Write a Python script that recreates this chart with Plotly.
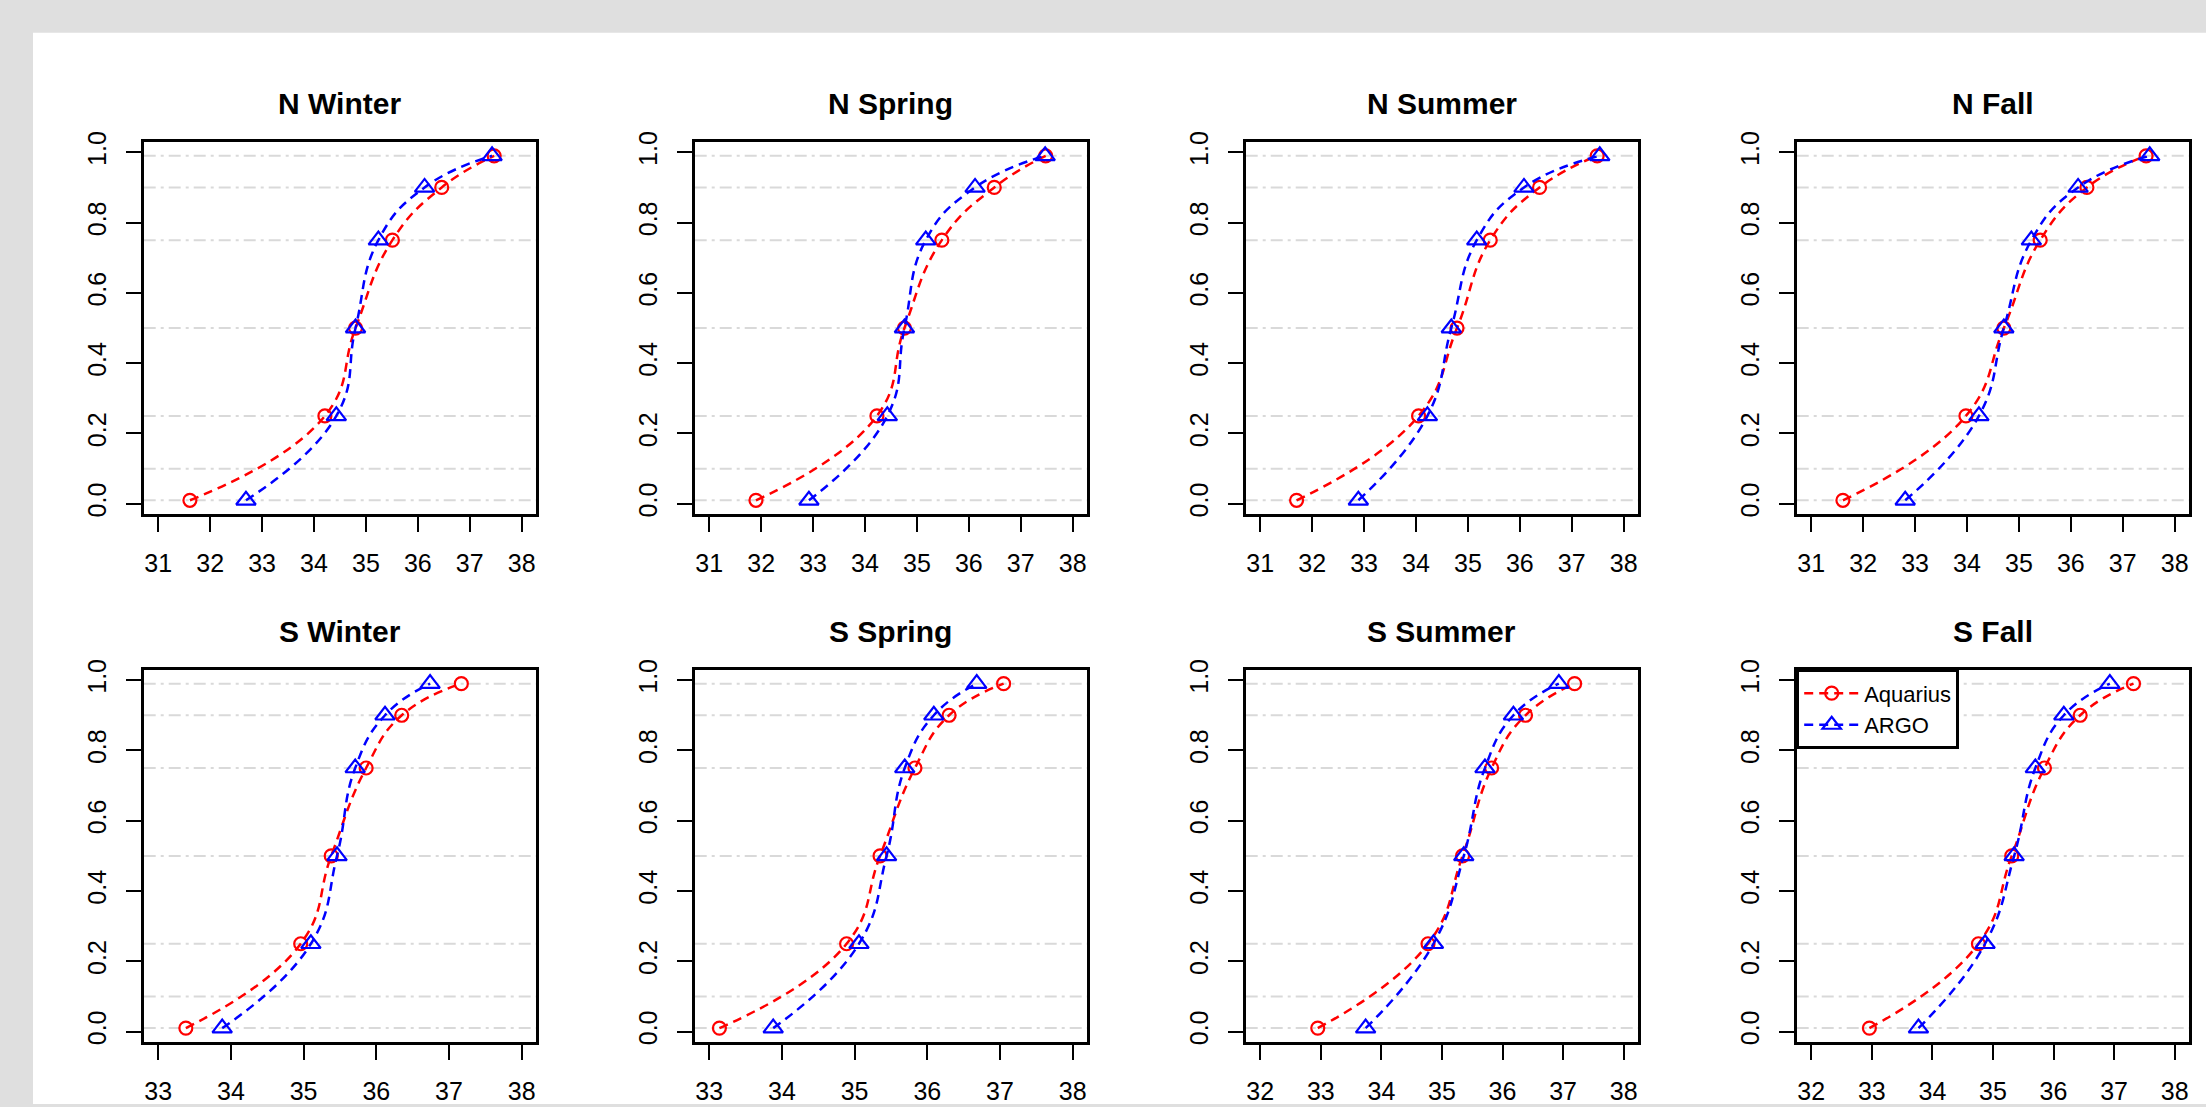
import math
import plotly.graph_objects as go

# ---------------- data ----------------
probs = [0.01, 0.25, 0.5, 0.75, 0.9, 0.99]
panels = ["N Winter", "N Spring", "N Summer", "N Fall",
          "S Winter", "S Spring", "S Summer", "S Fall"]

aquarius_n_winter = [31.61, 34.21, 34.80, 35.51, 36.46, 37.47]
aquarius_n_spring = [31.90, 34.23, 34.76, 35.48, 36.49, 37.48]
aquarius_n_summer = [31.70, 34.05, 34.79, 35.43, 36.38, 37.49]
aquarius_n_fall = [31.61, 33.98, 34.71, 35.41, 36.31, 37.45]
aquarius_s_winter = [33.38, 34.96, 35.38, 35.86, 36.35, 37.17]
aquarius_s_spring = [33.14, 34.89, 35.35, 35.83, 36.30, 37.05]
aquarius_s_summer = [32.95, 34.77, 35.34, 35.82, 36.38, 37.19]
aquarius_s_fall = [32.96, 34.76, 35.31, 35.85, 36.44, 37.32]

argo_n_winter = [32.69, 34.43, 34.80, 35.24, 36.13, 37.43]
argo_n_spring = [32.92, 34.43, 34.76, 35.17, 36.12, 37.47]
argo_n_summer = [32.89, 34.22, 34.68, 35.17, 36.08, 37.54]
argo_n_fall = [32.81, 34.23, 34.71, 35.24, 36.14, 37.52]
argo_s_winter = [33.88, 35.10, 35.46, 35.71, 36.12, 36.74]
argo_s_spring = [33.88, 35.06, 35.44, 35.69, 36.09, 36.68]
argo_s_summer = [33.74, 34.86, 35.36, 35.71, 36.18, 36.93]
argo_s_fall = [33.77, 34.87, 35.35, 35.70, 36.17, 36.93]

ref_levels = [0.01, 0.1, 0.25, 0.5, 0.75, 0.9, 0.99]

aquarius = [aquarius_n_winter, aquarius_n_spring, aquarius_n_summer, aquarius_n_fall,
            aquarius_s_winter, aquarius_s_spring, aquarius_s_summer, aquarius_s_fall]
argo = [argo_n_winter, argo_n_spring, argo_n_summer, argo_n_fall,
        argo_s_winter, argo_s_spring, argo_s_summer, argo_s_fall]

# ---------------- layout geometry (pixels) ----------------
W, H = 2206, 1107
box_left_px = [143.7, 694.7, 1245.7, 1796.7]
box_w = 392.5
row_top_px = [132.7, 667.3]
box_h = 376.8

FONT = "Arial, Liberation Sans, sans-serif"
RED = "#FF0000"
BLUE = "#0000FF"

fig = go.Figure()
layout = dict(
    width=W, height=H,
    margin=dict(l=0, r=0, t=0, b=0),
    paper_bgcolor="#dfdfdf",
    plot_bgcolor="white",
    font=dict(family=FONT, color="black"),
    showlegend=True,
    shapes=[], annotations=[],
)

# white page area
layout["shapes"].append(dict(type="rect", xref="paper", yref="paper",
                             x0=33 / W, x1=1.0, y0=0.0, y1=1 - 22 / H,
                             fillcolor="white", line=dict(width=0), layer="below"))

for i, name in enumerate(panels):
    r, c = divmod(i, 4)
    sfx = "" if i == 0 else str(i + 1)
    x0 = box_left_px[c] / W
    x1 = (box_left_px[c] + box_w) / W
    ytop = 1 - row_top_px[r] / H
    ybot = 1 - (row_top_px[r] + box_h) / H

    vals = aquarius[i] + argo[i]
    lo, hi = math.floor(min(vals)), math.ceil(max(vals))
    xpad = 0.04 * (hi - lo)
    ypad = 0.04 * (max(probs) - min(probs))

    common = dict(ticks="outside", ticklen=15, tickwidth=2.2, tickcolor="black",
                  showline=True, mirror=True, linecolor="black", linewidth=2.5,
                  showgrid=False, zeroline=False,
                  tickfont=dict(family=FONT, size=25, color="black"))
    layout["xaxis" + sfx] = dict(domain=[x0, x1], anchor="y" + sfx,
                                 range=[lo - xpad, hi + xpad], dtick=1, tick0=0,
                                 ticklabelstandoff=10, **common)
    layout["yaxis" + sfx] = dict(domain=[ybot, ytop], anchor="x" + sfx,
                                 range=[min(probs) - ypad, max(probs) + ypad],
                                 dtick=0.2, tick0=0, tickformat=".1f", tickangle=-90,
                                 ticklabelstandoff=10, **common)

    for lev in ref_levels:
        layout["shapes"].append(dict(type="line", xref=f"x{sfx} domain", yref="y" + sfx,
                                     x0=0, x1=1, y0=lev, y1=lev, layer="below",
                                     line=dict(color="#d9d9d9", width=2,
                                               dash="12px,5px,3px,5px")))

    layout["annotations"].append(dict(text=f"<b>{name}</b>", xref="paper", yref="paper",
                                      x=(x0 + x1) / 2, y=ytop + 20 / H,
                                      xanchor="center", yanchor="bottom", showarrow=False,
                                      font=dict(family=FONT, size=30, color="black")))

    fig.add_trace(go.Scatter(
        x=aquarius[i], y=probs, xaxis="x" + sfx, yaxis="y" + sfx,
        mode="lines+markers", name="Aquarius", legendgroup="aq",
        showlegend=(i == 7),
        line=dict(color=RED, width=2.5, dash="9px,6px", shape="spline", smoothing=1.3),
        marker=dict(symbol="circle-open", size=13, color=RED, line=dict(width=2.2, color=RED)),
    ))
    fig.add_trace(go.Scatter(
        x=argo[i], y=probs, xaxis="x" + sfx, yaxis="y" + sfx,
        mode="lines+markers", name="ARGO", legendgroup="ar",
        showlegend=(i == 7),
        line=dict(color=BLUE, width=2.5, dash="9px,6px", shape="spline", smoothing=1.3),
        marker=dict(symbol="triangle-up-open", size=17, color=BLUE, line=dict(width=2.2, color=BLUE)),
    ))

layout["legend"] = dict(x=box_left_px[3] / W, y=1 - row_top_px[1] / H,
                        xanchor="left", yanchor="top",
                        bgcolor="white", bordercolor="black", borderwidth=2.5,
                        font=dict(family=FONT, size=22, color="black"),
                        itemwidth=55, tracegroupgap=0, traceorder="normal")

fig.update_layout(**layout)
fig.write_html("out.html",
               config={"displayModeBar": False},
               post_script="document.body.style.margin='0px';"
                           "document.documentElement.style.overflow='hidden';")
